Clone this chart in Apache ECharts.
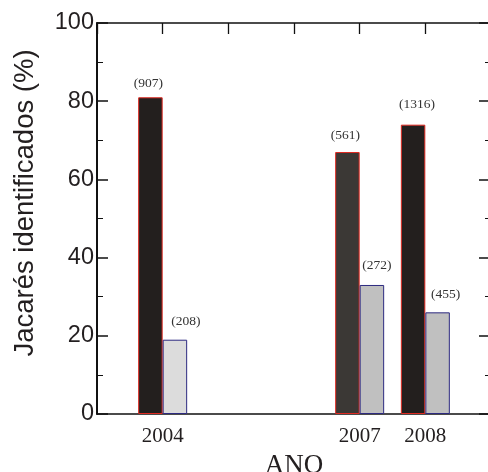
<!DOCTYPE html>
<html><head><meta charset="utf-8">
<script src="https://cdn.jsdelivr.net/npm/echarts@6/dist/echarts.min.js"></script>
<style>html,body{margin:0;padding:0;background:#fff}#c{width:488px;height:472px}</style>
</head><body><div id="c"></div>
<script>
const years = [2004, 2007, 2008];
const darkValues = [81, 67, 74];
const lightValues = [19, 33, 26];
const darkCounts = ['(907)', '(561)', '(1316)'];
const lightCounts = ['(208)', '(272)', '(455)'];
const yTicks = [0, 20, 40, 60, 80, 100];

const darkColors = ['#231f1e', '#3b3835', '#231f1e'];
const lightColors = ['#dcdcdc', '#c0c0c0', '#c0c0c0'];
const darkLabelOffsets = [[-2, -2], [-2, -5], [4, -8]];
const lightLabelOffsets = [[11, -6], [5, -8], [8, -6]];

const chart = echarts.init(document.getElementById('c'));
const labelStyle = {show: true, position: 'top', fontFamily: 'Liberation Serif', fontSize: 13.5, color: '#333'};
chart.setOption({
  animation: false,
  grid: {left: 97, top: 23, right: -3, bottom: 58, containLabel: false, outerBoundsMode: 'none'},
  xAxis: [{
    type: 'value', min: 2003, max: 2009, interval: 1, position: 'bottom',
    axisLine: {show: true, onZero: false, lineStyle: {color: '#111', width: 1.5}},
    axisTick: {show: false}, splitLine: {show: false},
    axisLabel: {margin: 12, fontFamily: 'Liberation Serif', fontSize: 21, color: '#231f20',
      formatter: v => years.includes(v) ? String(v) : ''},
    name: 'ANO', nameLocation: 'middle', nameGap: 38,
    nameTextStyle: {fontFamily: 'Liberation Serif', fontSize: 27, color: '#231f20'}
  }, {
    type: 'value', min: 2003, max: 2009, interval: 1, position: 'top',
    axisLine: {show: true, onZero: false, lineStyle: {color: '#111', width: 1.5}},
    axisTick: {show: true, inside: true, length: 11, lineStyle: {color: '#111', width: 1.3}},
    axisLabel: {show: false}, splitLine: {show: false}
  }],
  yAxis: [{
    type: 'value', min: yTicks[0], max: yTicks[yTicks.length - 1], interval: 20, position: 'left',
    axisLine: {show: true, onZero: false, lineStyle: {color: '#111', width: 2}},
    axisTick: {show: true, inside: true, length: 11, lineStyle: {color: '#111', width: 1.5}},
    minorTick: {show: true, splitNumber: 2, length: 6, lineStyle: {color: '#111', width: 1}},
    splitLine: {show: false},
    axisLabel: {margin: 3, fontFamily: 'Liberation Sans', fontSize: 23.5, color: '#231f20'}
  }, {
    type: 'value', min: yTicks[0], max: yTicks[yTicks.length - 1], interval: 20, position: 'right',
    axisLine: {show: true, onZero: false, lineStyle: {color: '#111', width: 1.5}},
    axisTick: {show: true, inside: true, length: 12, lineStyle: {color: '#111', width: 1.5}},
    minorTick: {show: true, splitNumber: 2, length: 6, lineStyle: {color: '#111', width: 1}},
    splitLine: {show: false}, axisLabel: {show: false}
  }],
  graphic: [{
    type: 'text', x: 25, y: 203, rotation: Math.PI / 2,
    style: {text: 'Jacarés identificados (%)', fontFamily: 'Liberation Sans', fontSize: 27.5,
      fill: '#231f20', align: 'center', verticalAlign: 'middle'}
  }],
  series: [{
    type: 'bar', xAxisIndex: 0, yAxisIndex: 0, barWidth: 24.5, barGap: '0%',
    data: years.map((y, i) => ({
      value: [y, darkValues[i]],
      itemStyle: {color: darkColors[i], borderColor: '#e02a22', borderWidth: 1},
      label: Object.assign({}, labelStyle, {formatter: darkCounts[i], offset: darkLabelOffsets[i]})
    }))
  }, {
    type: 'bar', xAxisIndex: 0, yAxisIndex: 0, barWidth: 24.5, barGap: '0%',
    data: years.map((y, i) => ({
      value: [y, lightValues[i]],
      itemStyle: {color: lightColors[i], borderColor: '#2d2a80', borderWidth: 1},
      label: Object.assign({}, labelStyle, {formatter: lightCounts[i], offset: lightLabelOffsets[i]})
    }))
  }]
});
</script></body></html>
